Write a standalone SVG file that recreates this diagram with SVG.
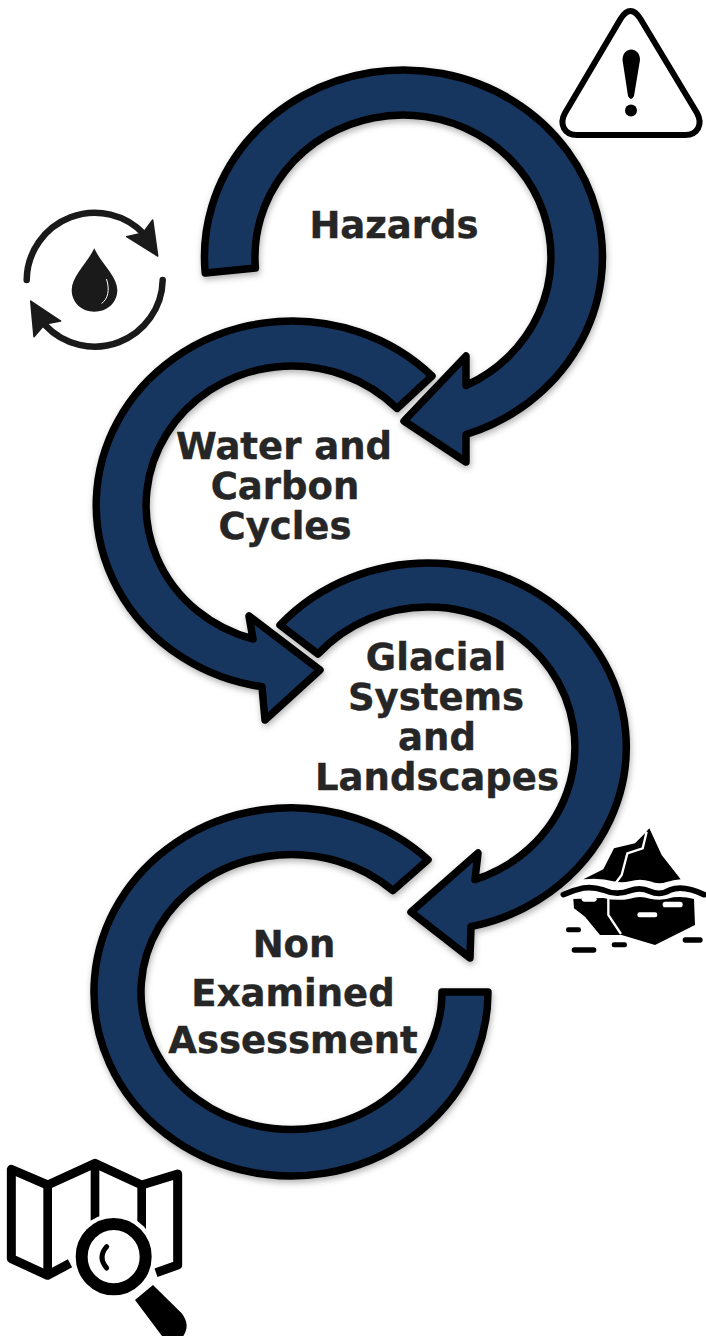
<svg xmlns="http://www.w3.org/2000/svg" width="706" height="1336" viewBox="0 0 706 1336">
<defs>
<filter id="sh" x="-10%" y="-10%" width="120%" height="120%"><feDropShadow dx="1" dy="3" stdDeviation="3" flood-color="#000" flood-opacity="0.3"/></filter>
</defs>
<style>
.arrow{fill:#19365e;stroke:#000;stroke-width:7.500;stroke-linejoin:round;filter:url(#sh)}
.label{font-family:"DejaVu Sans","Liberation Sans",sans-serif;font-weight:700;font-size:37px;fill:#262626;stroke:#262626;stroke-width:0.400;text-anchor:middle}
.ink{fill:#000;stroke:none}
.wd{fill:#fff;stroke:none}
</style>
<rect width="706" height="1336" fill="#fff"/>
<g id="step-hazards">
<path class="arrow" d="M205.200,273 A199,187 0 1 1 466,434.500 L466,462 L404,421 L466,356 L466,385.500 A148,142 0 1 0 255.400,268 Z"/>
<text class="label" x="394" y="238">Hazards</text>
</g>
<g id="step-water">
<path class="arrow" d="M432,376 A196,184 0 1 0 262,686.800 L265,720 L320,670 L249,616 L253,639 A146,139 0 1 1 397,408.400 Z"/>
<text class="label"><tspan x="284" y="459">Water and</tspan><tspan x="285" y="499">Carbon</tspan><tspan x="285" y="539">Cycles</tspan></text>
</g>
<g id="step-glacial">
<path class="arrow" d="M280,625 A198,184 0 1 1 471,926.600 L470,958 L411,912 L478,853 L475,879.600 A147,140 0 1 0 318,654 Z"/>
<text class="label"><tspan x="436" y="670">Glacial</tspan><tspan x="436" y="710">Systems</tspan><tspan x="437" y="750">and</tspan><tspan x="437" y="790">Landscapes</tspan></text>
</g>
<g id="step-nea">
<path class="arrow" d="M428,859.700 A197,184 0 1 0 488,992 L442,992 A150.500,137.500 0 1 1 393,890.500 Z"/>
<text class="label"><tspan x="294" y="957">Non</tspan><tspan x="293" y="1006">Examined</tspan><tspan x="293" y="1053">Assessment</tspan></text>
</g>
<g id="icon-warning">
<path d="M620.500,19 Q630.500,3 640.500,19 L697,113 C703,124 698,135 685,135 L577,135 C564,135 559,124 565,113 Z" fill="#fff" stroke="#000" stroke-width="6" stroke-linejoin="round"/>
<path class="ink" d="M622.500,60 C622.500,46 640,46 640,60 L634,96 Q631,102 628,96 Z"/>
<circle class="ink" cx="631" cy="110.500" r="6"/>
</g>
<g id="icon-cycle">
<path d="M26.700,280 A68,68 0 0 1 145,235" fill="none" stroke="#1a1a1a" stroke-width="6.500" stroke-linecap="round"/>
<path d="M162.700,280 A68,68 0 0 1 45,325" fill="none" stroke="#1a1a1a" stroke-width="6.500" stroke-linecap="round"/>
<path d="M152.700,220 L157.700,256 L126.700,236.700 L143,233 Z" fill="#1a1a1a" stroke="#1a1a1a" stroke-width="1.500" stroke-linejoin="round"/>
<path d="M30.700,301 L34,336.700 L45,324 L60.700,321 Z" fill="#1a1a1a" stroke="#1a1a1a" stroke-width="1.500" stroke-linejoin="round"/>
<path d="M94.300,248.300 C88,262 71.700,276 71.700,290 C71.700,303 82,311.700 94.300,311.700 C107,311.700 117.300,303 117.300,290 C117.300,276 100,262 94.300,248.300 Z" fill="#1a1a1a"/>
<path d="M106.500,279 C110,290 108,299 101.500,303.500" fill="none" stroke="#fff" stroke-width="1"/>
</g>
<g id="icon-iceberg" transform="translate(550 820) scale(0.33333)">
<path class="ink" d="M298,25 L335,105 L392,178 Q370,180 350,186 Q325,194 300,184 Q270,174 240,184 Q215,190 190,184 Q150,172 100,178 L160,148 L192,85 L255,70 L285,40 Z"/>
<path d="M290,35 L278,85 L232,100 L215,165 L195,192" fill="none" stroke="#fff" stroke-width="7"/>
<path d="M40,224 Q70,210 100,204 Q130,200 160,210 Q200,228 240,212 Q270,200 300,214 Q330,228 360,210 Q400,194 462,224" fill="none" stroke="#000" stroke-width="17" stroke-linecap="round"/>
<path class="ink" d="M70,237 L160,234 Q200,244 240,236 Q270,226 300,236 Q335,244 370,232 Q400,228 432,237 L435,315 L315,375 L215,345 L150,345 L105,290 L72,265 Z"/>
<path d="M175,232 L175,285 L213,342" fill="none" stroke="#fff" stroke-width="7"/>
<rect class="wd" x="95" y="231" width="45" height="14" rx="7"/>
<rect class="wd" x="338" y="245" width="60" height="17" rx="8"/>
<rect class="wd" x="262" y="277" width="60" height="15" rx="7"/>
<rect class="ink" x="48" y="322" width="45" height="15" rx="7"/>
<rect class="ink" x="65" y="382" width="74" height="16" rx="8"/>
<rect class="ink" x="185" y="367" width="46" height="15" rx="7"/>
<rect class="ink" x="398" y="352" width="60" height="16" rx="8"/>
</g>
<g id="icon-map" transform="translate(0 1150) scale(0.33333)">
<path d="M210,340 L143,376 L34,326 L34,58 L143,105 L285,40 L425,105 L533,72 L533,345 L468,368" fill="none" stroke="#000" stroke-width="27" stroke-linejoin="round"/>
<path d="M143,100 V372 M285,45 V230 M425,100 V250" fill="none" stroke="#000" stroke-width="26"/>
<ellipse cx="341" cy="320" rx="127" ry="129" fill="#fff"/>
<ellipse cx="341" cy="320" rx="96" ry="98" fill="#fff" stroke="#000" stroke-width="36"/>
<path class="ink" d="M405,450 L459,405 L545,490 Q572,525 550,558 L486,558 Z"/>
<path d="M320,290 Q292,322 320,354" fill="none" stroke="#000" stroke-width="15" stroke-linecap="round"/>
</g>
</svg>
